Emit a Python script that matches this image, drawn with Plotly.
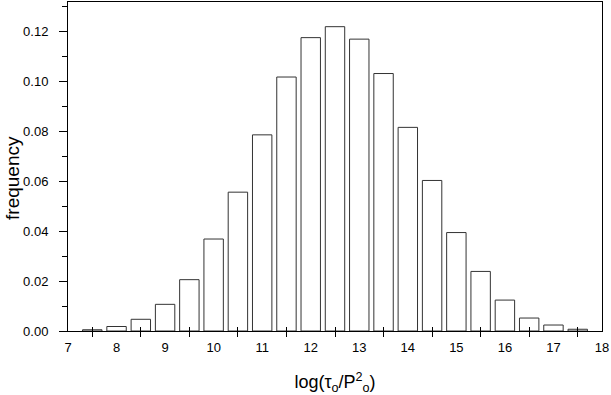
import plotly.graph_objects as go

# bin centres of log(tau_0 / P_0^2) and their frequencies
bin_centres = [7.5, 8.0, 8.5, 9.0, 9.5, 10.0, 10.5, 11.0, 11.5, 12.0, 12.5,
               13.0, 13.5, 14.0, 14.5, 15.0, 15.5, 16.0, 16.5, 17.0, 17.5]
frequency = [0.0005, 0.0018, 0.0047, 0.0107, 0.0206, 0.0369, 0.0557, 0.0787,
             0.1019, 0.1177, 0.1221, 0.1171, 0.1033, 0.0817, 0.0604, 0.0395,
             0.0239, 0.0124, 0.0052, 0.0024, 0.0007]
x_labels = [str(v) for v in range(7, 19)]
x_minor = [v + 0.5 for v in range(7, 18)]

font = dict(family="Liberation Sans, Arial, sans-serif", color="black")

fig = go.Figure()
fig.add_trace(go.Bar(x=bin_centres, y=frequency, width=0.4,
                     marker=dict(color="white", line=dict(color="#333", width=1))))
# empty traces so the tick-only overlay axes get drawn
for ax in ["x2", "x3"]:
    fig.add_trace(go.Scatter(x=[None], y=[None], xaxis=ax, hoverinfo="skip"))

tick_axis = dict(overlaying="x", range=[7, 18], tickmode="array", tickvals=x_minor,
                 tickcolor="black", showticklabels=False, showgrid=False,
                 zeroline=False, showline=False, automargin=False)

fig.update_layout(
    width=611, height=395,
    margin=dict(l=68, r=9, t=2, b=64),
    plot_bgcolor="white", paper_bgcolor="white",
    showlegend=False,
    font=dict(size=13, **font),
    xaxis=dict(
        range=[7, 18], tickmode="array", tickvals=list(range(7, 19)), ticktext=x_labels,
        ticks="", showline=True, linecolor="black", linewidth=1, mirror=True,
        showgrid=False, zeroline=False, tickfont=dict(size=13), automargin=False,
        ticklabelstandoff=4,
        title=dict(text="log(τ<sub>o</sub>/P<sup>2</sup><sub>o</sub>)", font=dict(size=18), standoff=22),
    ),
    xaxis2=dict(ticks="inside", ticklen=4, **tick_axis),
    xaxis3=dict(ticks="outside", ticklen=5, **tick_axis),
    yaxis=dict(
        range=[0, 0.132], tickmode="array", tickvals=[0, 0.02, 0.04, 0.06, 0.08, 0.10, 0.12],
        tickformat=".2f", ticks="outside", ticklen=8, tickcolor="black",
        minor=dict(tickmode="array", tickvals=[0.01, 0.03, 0.05, 0.07, 0.09, 0.11, 0.13],
                   ticks="outside", ticklen=5, tickcolor="black"),
        showline=True, linecolor="black", linewidth=1, mirror=True,
        showgrid=False, zeroline=False, tickfont=dict(size=13), automargin=False,
        ticklabelstandoff=8,
    ),
)

# y title sits a bit below the middle of the axis in the original
fig.add_annotation(text="frequency", textangle=-90, xref="paper", yref="paper",
                   x=-0.105, y=0.465, xanchor="center", yanchor="middle",
                   showarrow=False, font=dict(size=19))

# drop the browser's default body margin so the figure sits at the page corner
fig.write_html("out.html", config={"displayModeBar": False},
               post_script="document.body.style.margin = '0';")
